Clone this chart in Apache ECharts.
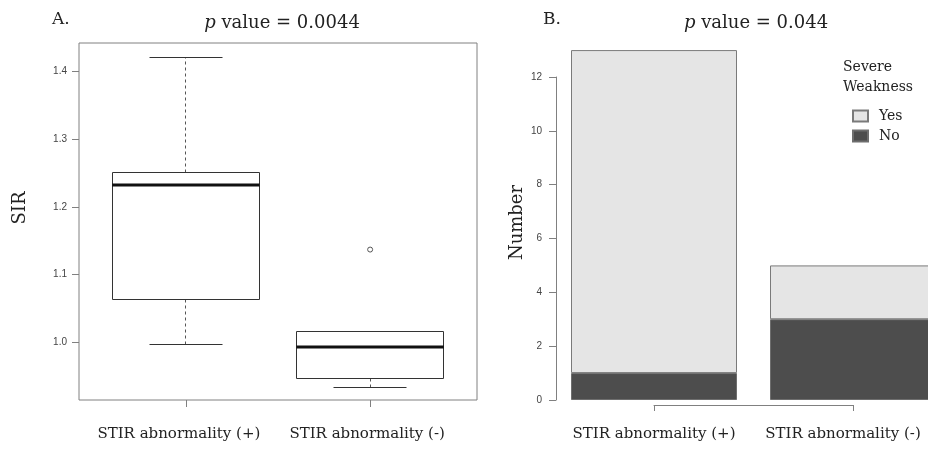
<!DOCTYPE html>
<html><head><meta charset="utf-8">
<script src="https://cdn.jsdelivr.net/npm/echarts@6/dist/echarts.min.js"></script>
<style>html,body{margin:0;padding:0;background:#fff}#c{width:928px;height:450px}</style>
</head><body><div id="c"></div>
<script>
// ---- Panel A: SIR boxplot ----
const boxCategories = ['STIR abnormality (+)', 'STIR abnormality (-)'];
const boxPositions = [1, 2];
const sirLowerWhisker = [0.998, 0.934];
const sirQ1 = [1.063, 0.947];
const sirMedian = [1.232, 0.993];
const sirQ3 = [1.251, 1.017];
const sirUpperWhisker = [1.420, 1.017];
const sirOutliers = [[2, 1.137]];
const sirTicks = [1.0, 1.1, 1.2, 1.3, 1.4];

// ---- Panel B: stacked bars ----
const barCategories = ['STIR abnormality (+)', 'STIR abnormality (-)'];
const weaknessNo = [1, 3];
const weaknessYes = [12, 2];

const SERIF = "'DejaVu Serif', serif";
const SANS = "'Liberation Sans', Arial, sans-serif";
const boxData = boxPositions.map((x, i) => [x, sirLowerWhisker[i], sirQ1[i], sirMedian[i], sirQ3[i], sirUpperWhisker[i]]);

function crisp(v) { return Math.round(v - 0.5) + 0.5; }

function renderBox(params, api) {
  const x = api.value(0);
  const lo = api.value(1), q1 = api.value(2), med = api.value(3), q3 = api.value(4), hi = api.value(5);
  const half = 0.4, cap = 0.2;
  const p = (xx, yy) => { const c = api.coord([xx, yy]); return [crisp(c[0]), crisp(c[1])]; };
  const solid = { stroke: '#333', lineWidth: 1, fill: null };
  const dashed = { stroke: '#555', lineWidth: 1, lineDash: [3, 3], fill: null };
  const seg = (a, b, st) => ({ type: 'line', shape: { x1: a[0], y1: a[1], x2: b[0], y2: b[1] }, style: st });
  const tl = p(x - half, q3), br = p(x + half, q1);
  const mL = api.coord([x - half, med]), mR = api.coord([x + half, med]);
  return {
    type: 'group',
    children: [
      seg(p(x, q3), p(x, hi), dashed),
      seg(p(x, q1), p(x, lo), dashed),
      seg(p(x - cap, hi), p(x + cap, hi), solid),
      seg(p(x - cap, lo), p(x + cap, lo), solid),
      { type: 'rect', shape: { x: tl[0], y: tl[1], width: br[0] - tl[0], height: br[1] - tl[1] }, style: { stroke: '#333', lineWidth: 1, fill: '#fff' } },
      { type: 'line', shape: { x1: mL[0], y1: Math.round(mL[1]), x2: mR[0], y2: Math.round(mR[1]) }, style: { stroke: '#111', lineWidth: 3 } }
    ]
  };
}

const chart = echarts.init(document.getElementById('c'), null, { renderer: 'canvas' });
chart.setOption({
  animation: false,
  backgroundColor: '#fff',
  grid: [
    { left: 79, top: 43, width: 398, height: 357, show: true, borderColor: '#808080', borderWidth: 1, backgroundColor: 'transparent' },
    { left: 654, top: 77, width: 199, height: 323 }
  ],
  xAxis: [
    {
      gridIndex: 0, type: 'value', min: 0.42, max: 2.58,
      axisLine: { show: false }, splitLine: { show: false },
      axisTick: { show: true, length: 7, customValues: boxPositions, lineStyle: { color: '#808080' } },
      axisLabel: { customValues: boxPositions, margin: 27, fontFamily: SERIF, fontSize: 15, color: '#222',
        formatter: v => (Math.round(v) === 1 ? '{a|' : '{b|') + boxCategories[Math.round(v) - 1] + '}',
        rich: { a: { fontFamily: SERIF, fontSize: 15, color: '#222', padding: [0, 14, 0, 0] },
                b: { fontFamily: SERIF, fontSize: 15, color: '#222', padding: [0, 6, 0, 0] } } }
    },
    {
      gridIndex: 1, type: 'category', data: barCategories, boundaryGap: false, offset: 5,
      axisLine: { show: true, onZero: false, lineStyle: { color: '#808080' } },
      axisTick: { show: true, length: 6, interval: 0, lineStyle: { color: '#808080' } },
      axisLabel: { margin: 22, interval: 0, showMinLabel: true, showMaxLabel: true, hideOverlap: false,
        fontFamily: SERIF, fontSize: 15, color: '#222',
        formatter: (v, i) => (i === 0 ? '{a|' : '{b|') + v + '}',
        rich: { a: { fontFamily: SERIF, fontSize: 15, color: '#222' },
                b: { fontFamily: SERIF, fontSize: 15, color: '#222', padding: [0, 20, 0, 0] } } },
      splitLine: { show: false }
    }
  ],
  yAxis: [
    {
      gridIndex: 0, type: 'value', min: 0.9156, max: 1.441,
      name: 'SIR', nameLocation: 'middle', nameRotate: 90, nameGap: 50, nameMoveOverlap: false,
      nameTextStyle: { fontFamily: SERIF, fontSize: 18, color: '#222', padding: [0, 0, 0, 27] },
      axisLine: { show: false }, splitLine: { show: false },
      axisTick: { show: true, length: 7, customValues: sirTicks, lineStyle: { color: '#808080' } },
      axisLabel: { customValues: sirTicks, margin: 12, fontFamily: SANS, fontSize: 10, color: '#444',
        formatter: v => v.toFixed(1) }
    },
    {
      gridIndex: 1, type: 'value', min: 0, max: 12, interval: 2, offset: 98,
      name: 'Number', nameLocation: 'middle', nameRotate: 90, nameGap: 30, nameMoveOverlap: false,
      nameTextStyle: { fontFamily: SERIF, fontSize: 18, color: '#222', padding: [0, 0, 0, 32] },
      axisLine: { show: true, lineStyle: { color: '#808080' } }, splitLine: { show: false },
      axisTick: { show: true, length: 7, lineStyle: { color: '#808080' } },
      axisLabel: { margin: 14, fontFamily: SANS, fontSize: 10, color: '#444' }
    }
  ],
  legend: {
    data: ['Yes', 'No'], orient: 'vertical', left: 847, top: 104,
    itemWidth: 15, itemHeight: 11, itemGap: 6, icon: 'rect', selectedMode: false,
    textStyle: { fontFamily: SERIF, fontSize: 14, color: '#222', padding: [0, 0, 0, 6] }
  },
  graphic: [
    { type: 'text', style: { x: 52, y: 20, text: 'A.', fontFamily: SERIF, fontSize: 17, fill: '#222', textVerticalAlign: 'middle' } },
    { type: 'text', style: { x: 282, y: 23, text: '{i|p} value = 0.0044', fontFamily: SERIF, fontSize: 18, fill: '#222', textAlign: 'center', textVerticalAlign: 'middle',
      rich: { i: { fontStyle: 'italic', fontFamily: SERIF, fontSize: 18, fill: '#222' } } } },
    { type: 'text', style: { x: 543, y: 20, text: 'B.', fontFamily: SERIF, fontSize: 17, fill: '#222', textVerticalAlign: 'middle' } },
    { type: 'text', style: { x: 756, y: 23, text: '{i|p} value = 0.044', fontFamily: SERIF, fontSize: 18, fill: '#222', textAlign: 'center', textVerticalAlign: 'middle',
      rich: { i: { fontStyle: 'italic', fontFamily: SERIF, fontSize: 18, fill: '#222' } } } },
    { type: 'text', style: { x: 843, y: 57, text: 'Severe\nWeakness', fontFamily: SERIF, fontSize: 14, lineHeight: 20, fill: '#222' } }
  ],
  series: [
    {
      type: 'custom', xAxisIndex: 0, yAxisIndex: 0, renderItem: renderBox, data: boxData,
      encode: { x: 0, y: [1, 2, 3, 4, 5] }, silent: true
    },
    {
      type: 'scatter', xAxisIndex: 0, yAxisIndex: 0, data: sirOutliers, symbol: 'circle', symbolSize: 5,
      itemStyle: { color: '#fff', borderColor: '#555', borderWidth: 1, opacity: 1 }, silent: true
    },
    {
      name: 'No', type: 'bar', xAxisIndex: 1, yAxisIndex: 1, stack: 'w', barWidth: 166, clip: false, data: weaknessNo,
      itemStyle: { color: '#4d4d4d', borderColor: '#6e6e6e', borderWidth: 1 }
    },
    {
      name: 'Yes', type: 'bar', xAxisIndex: 1, yAxisIndex: 1, stack: 'w', barWidth: 166, clip: false, data: weaknessYes,
      itemStyle: { color: '#e5e5e5', borderColor: '#7a7a7a', borderWidth: 1 }
    }
  ]
});
</script></body></html>
